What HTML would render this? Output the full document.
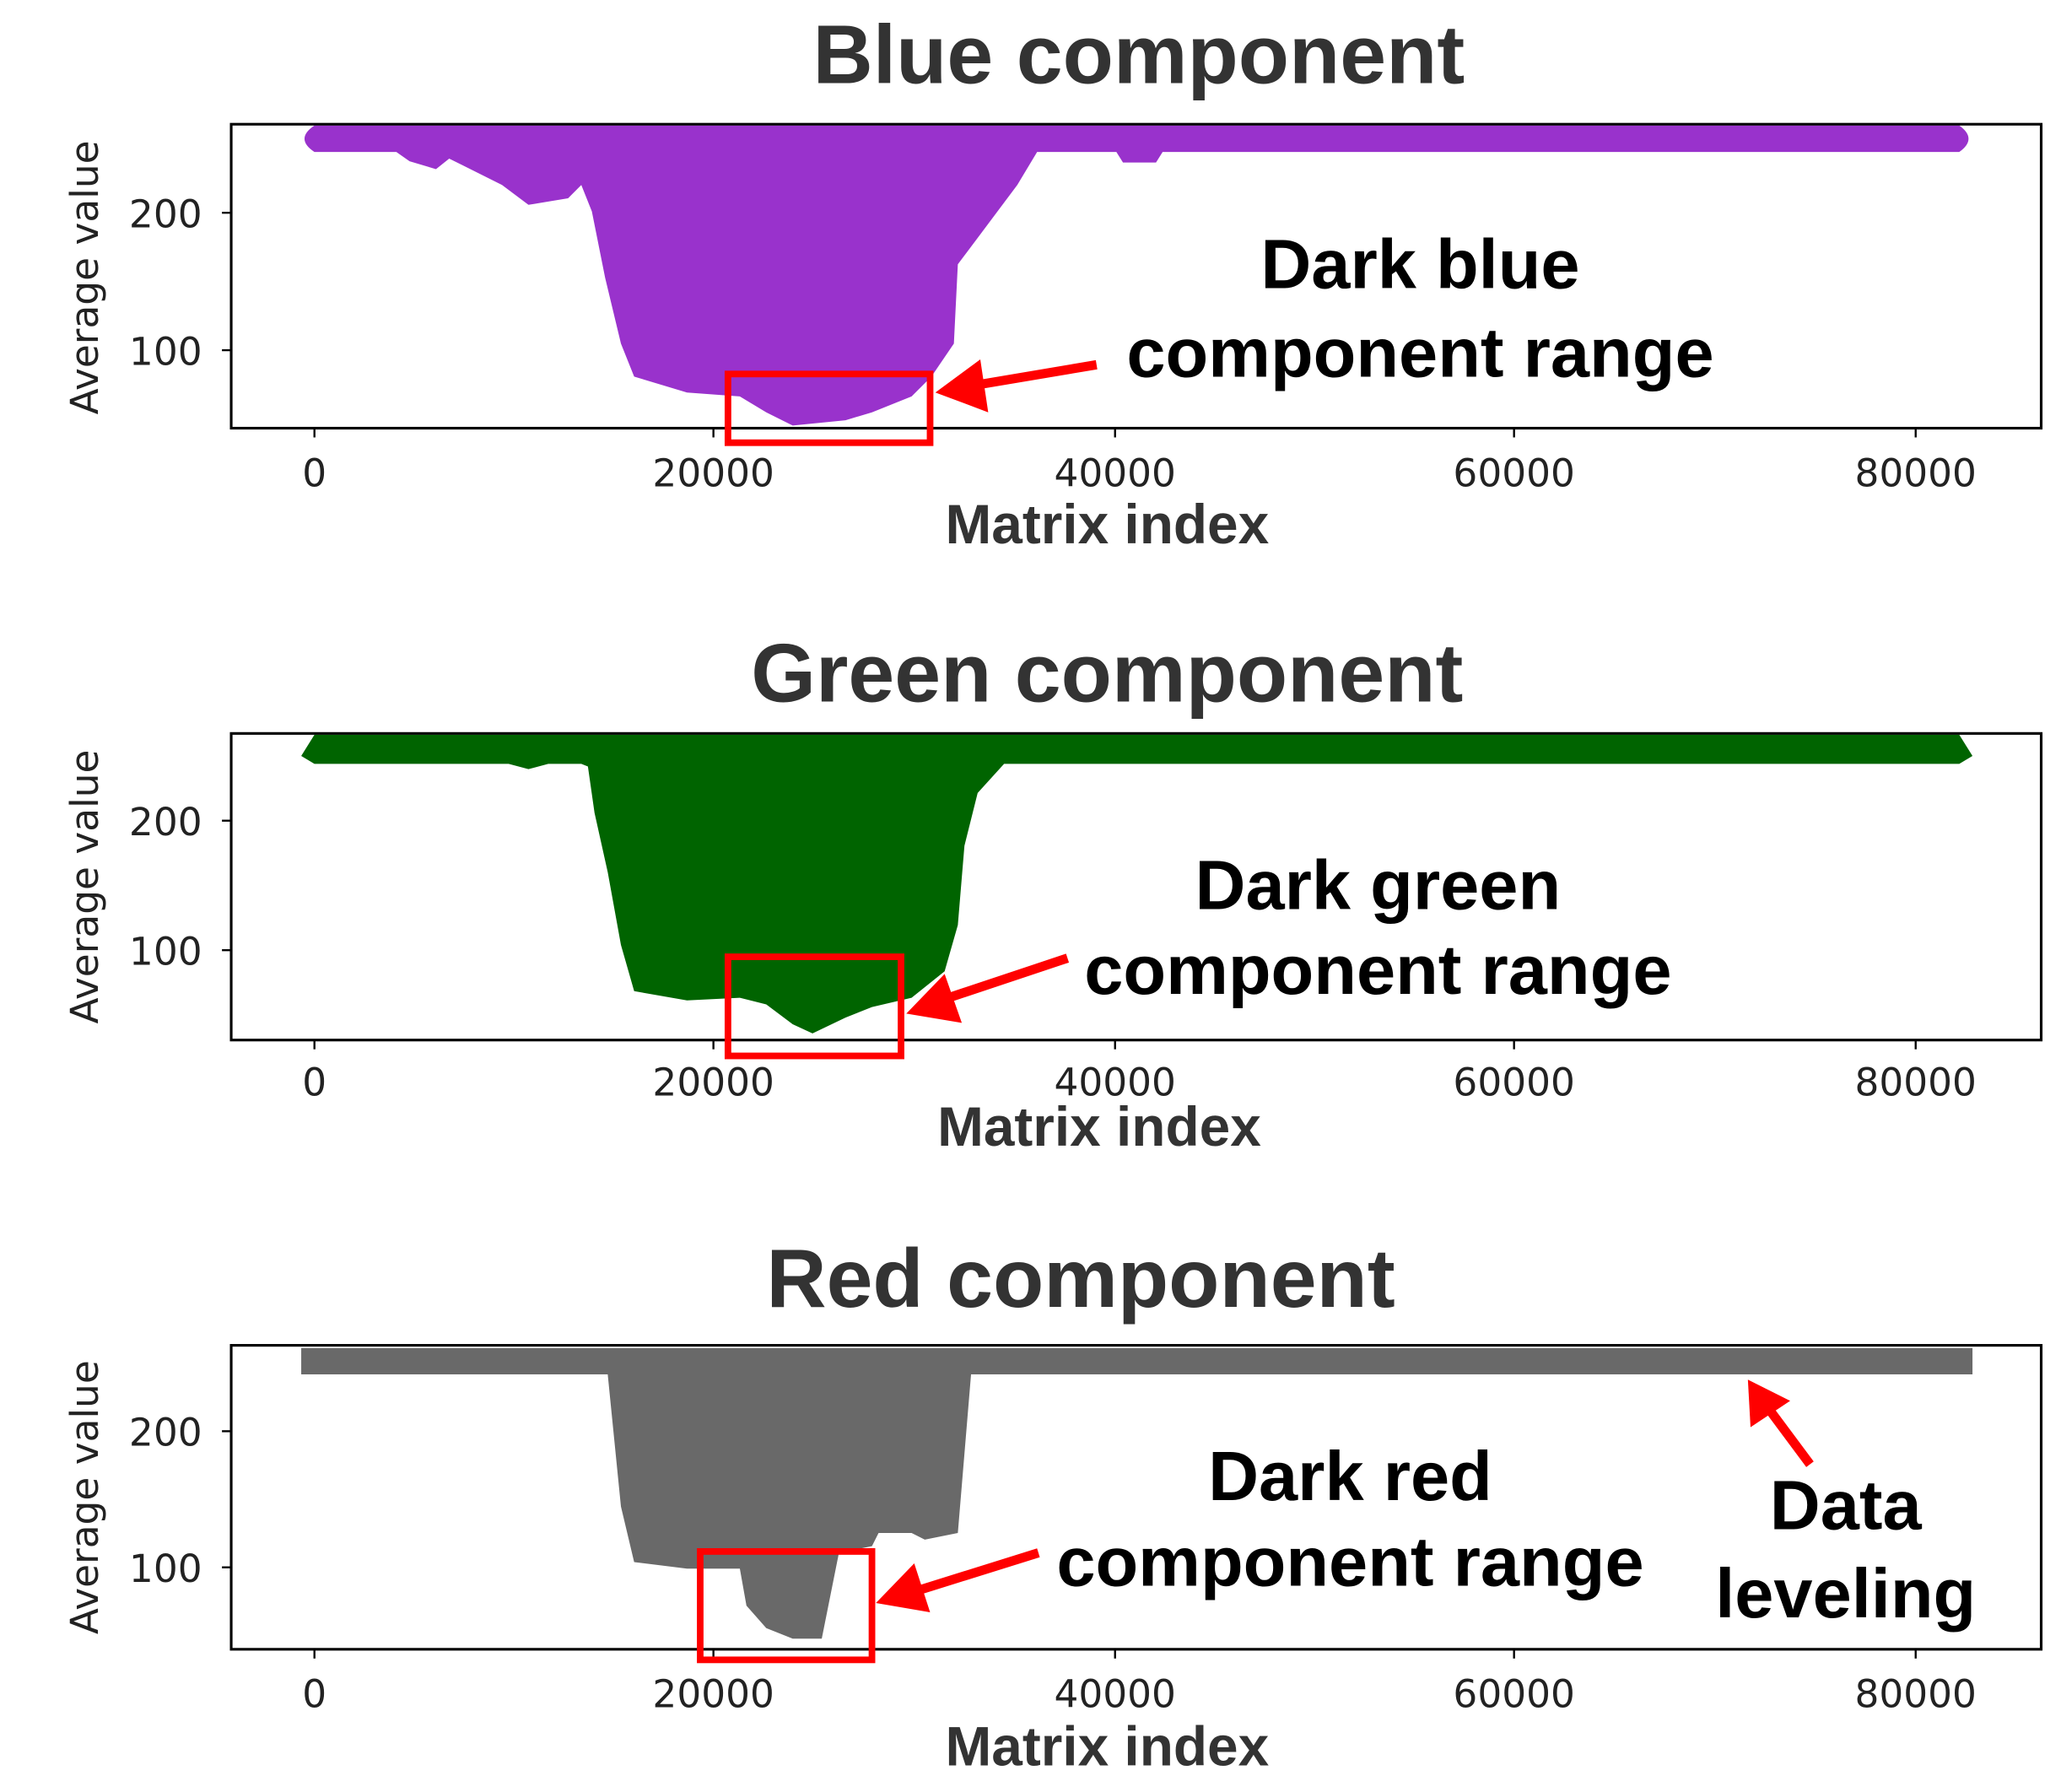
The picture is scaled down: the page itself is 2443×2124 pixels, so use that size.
<!DOCTYPE html>
<html><head><meta charset="utf-8"><style>html,body{margin:0;padding:0;background:#fff}svg{display:block}.b{font-family:"Liberation Sans",sans-serif;font-weight:bold}</style></head>
<body>
<svg width="2443" height="2124" viewBox="0 0 1560 1356" preserveAspectRatio="none" xmlns="http://www.w3.org/2000/svg" font-family="DejaVu Sans, sans-serif">
<!-- BLUE -->
<text class="b" x="862" y="63" font-size="63" fill="#333" text-anchor="middle">Blue component</text>
<path d="M238,95 L1483,95 Q1497,105 1483,115 L880,115 L875,123 L850,123 L845,115 L785,115 L770,140 L740,180 L725,200 L722,260 L705,285 L690,300 L660,312 L640,318 L600,322 L580,312 L560,300 L520,297 L480,285 L470,260 L458,210 L448,160 L440,140 L430,150 L400,155 L380,140 L350,125 L340,120 L330,128 L310,122 L300,115 L238,115 Q223,105 238,95 Z" fill="#9932CC"/>
<rect x="175" y="94" width="1370" height="230" fill="none" stroke="#000" stroke-width="2"/>
<g stroke="#000" stroke-width="1.5"><line x1="168" y1="161" x2="175" y2="161"/><line x1="168" y1="265" x2="175" y2="265"/>
<line x1="238" y1="324" x2="238" y2="331"/><line x1="540" y1="324" x2="540" y2="331"/><line x1="844" y1="324" x2="844" y2="331"/><line x1="1146" y1="324" x2="1146" y2="331"/><line x1="1450" y1="324" x2="1450" y2="331"/></g>
<g font-size="29" fill="#222" text-anchor="middle"><text x="238" y="368">0</text><text x="540" y="368">20000</text><text x="844" y="368">40000</text><text x="1146" y="368">60000</text><text x="1450" y="368">80000</text></g>
<g font-size="29" fill="#222" text-anchor="end"><text x="153" y="172">200</text><text x="153" y="276">100</text></g>
<text transform="translate(74,210) rotate(-90)" font-size="29" fill="#222" text-anchor="middle">Average value</text>
<text class="b" x="838" y="411" font-size="42" fill="#333" text-anchor="middle">Matrix index</text>
<rect x="551" y="283" width="153" height="52" fill="none" stroke="#f00" stroke-width="5"/>
<line x1="830" y1="276" x2="735" y2="292" stroke="#f00" stroke-width="7"/>
<polygon points="708,297 742,272 748,312" fill="#f00"/>
<g class="b" font-size="53" fill="#000" text-anchor="middle"><text x="1075" y="218">Dark blue</text><text x="1075" y="285">component range</text></g>

<!-- GREEN -->
<text class="b" x="838" y="531" font-size="63" fill="#333" text-anchor="middle">Green component</text>
<path d="M238,556 L1483,556 L1493,572 L1483,578 L760,578 L740,600 L730,640 L725,700 L715,735 L690,755 L660,762 L640,770 L615,782 L600,775 L580,760 L560,755 L520,757 L480,750 L470,715 L460,660 L450,615 L445,580 L440,578 L415,578 L400,582 L385,578 L238,578 L228,572 Z" fill="#006400"/>
<rect x="175" y="555" width="1370" height="232" fill="none" stroke="#000" stroke-width="2"/>
<g stroke="#000" stroke-width="1.5"><line x1="168" y1="621" x2="175" y2="621"/><line x1="168" y1="719" x2="175" y2="719"/>
<line x1="238" y1="787" x2="238" y2="794"/><line x1="540" y1="787" x2="540" y2="794"/><line x1="844" y1="787" x2="844" y2="794"/><line x1="1146" y1="787" x2="1146" y2="794"/><line x1="1450" y1="787" x2="1450" y2="794"/></g>
<g font-size="29" fill="#222" text-anchor="middle"><text x="238" y="829">0</text><text x="540" y="829">20000</text><text x="844" y="829">40000</text><text x="1146" y="829">60000</text><text x="1450" y="829">80000</text></g>
<g font-size="29" fill="#222" text-anchor="end"><text x="153" y="632">200</text><text x="153" y="730">100</text></g>
<text transform="translate(74,671) rotate(-90)" font-size="29" fill="#222" text-anchor="middle">Average value</text>
<text class="b" x="832" y="867" font-size="42" fill="#333" text-anchor="middle">Matrix index</text>
<rect x="551" y="724" width="131" height="75" fill="none" stroke="#f00" stroke-width="5"/>
<line x1="808" y1="725" x2="712" y2="757" stroke="#f00" stroke-width="7"/>
<polygon points="686,767 715,737 728,774" fill="#f00"/>
<g class="b" font-size="53" fill="#000" text-anchor="middle"><text x="1043" y="688">Dark green</text><text x="1043" y="752">component range</text></g>

<!-- RED -->
<text class="b" x="818" y="989" font-size="63" fill="#333" text-anchor="middle">Red component</text>
<path d="M228,1020 L1493,1020 L1493,1040 L735,1040 L730,1100 L725,1160 L700,1165 L690,1160 L665,1160 L660,1170 L635,1175 L630,1200 L622,1240 L600,1240 L580,1232 L565,1215 L560,1187 L520,1187 L480,1182 L470,1140 L465,1090 L460,1040 L228,1040 Z" fill="#696969"/>
<rect x="175" y="1018" width="1370" height="230" fill="none" stroke="#000" stroke-width="2"/>
<g stroke="#000" stroke-width="1.5"><line x1="168" y1="1083" x2="175" y2="1083"/><line x1="168" y1="1186" x2="175" y2="1186"/>
<line x1="238" y1="1248" x2="238" y2="1255"/><line x1="540" y1="1248" x2="540" y2="1255"/><line x1="844" y1="1248" x2="844" y2="1255"/><line x1="1146" y1="1248" x2="1146" y2="1255"/><line x1="1450" y1="1248" x2="1450" y2="1255"/></g>
<g font-size="29" fill="#222" text-anchor="middle"><text x="238" y="1292">0</text><text x="540" y="1292">20000</text><text x="844" y="1292">40000</text><text x="1146" y="1292">60000</text><text x="1450" y="1292">80000</text></g>
<g font-size="29" fill="#222" text-anchor="end"><text x="153" y="1094">200</text><text x="153" y="1197">100</text></g>
<text transform="translate(74,1133) rotate(-90)" font-size="29" fill="#222" text-anchor="middle">Average value</text>
<text class="b" x="838" y="1336" font-size="42" fill="#333" text-anchor="middle">Matrix index</text>
<rect x="530" y="1174" width="130" height="82" fill="none" stroke="#f00" stroke-width="5"/>
<line x1="786" y1="1175" x2="690" y2="1205" stroke="#f00" stroke-width="7"/>
<polygon points="663,1213 692,1183 704,1220" fill="#f00"/>
<g class="b" font-size="53" fill="#000" text-anchor="middle"><text x="1022" y="1135">Dark red</text><text x="1022" y="1200">component range</text><text x="1397" y="1157">Data</text><text x="1397" y="1224">leveling</text></g>
<line x1="1370" y1="1108" x2="1338" y2="1065" stroke="#f00" stroke-width="7"/>
<polygon points="1323,1044 1325,1080 1355,1060" fill="#f00"/>
</svg>
</body></html>
